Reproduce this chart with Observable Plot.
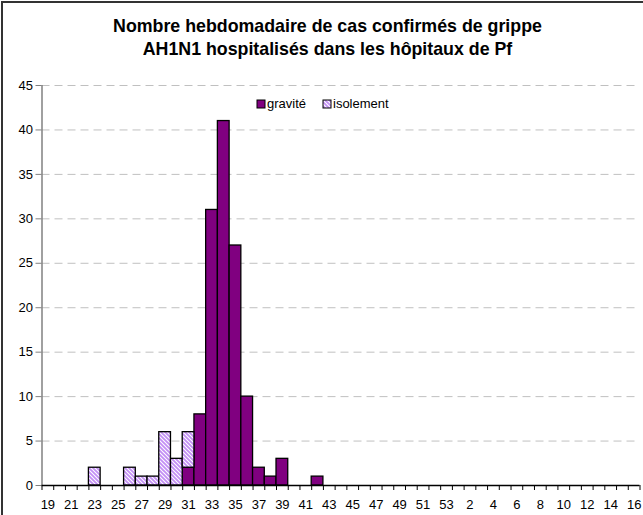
<!DOCTYPE html>
<html>
<head>
<meta charset="utf-8">
<script src="https://cdn.jsdelivr.net/npm/d3@7"></script>
<script src="https://cdn.jsdelivr.net/npm/@observablehq/plot@0.6"></script>
<style>
  html, body { margin: 0; padding: 0; background: #fff; }
  #wrap { position: relative; width: 643px; height: 515px; overflow: hidden; font-family: "Liberation Sans", Arial, sans-serif; }
  #border { position: absolute; left: 1px; top: 1px; width: 700px; height: 600px; border-left: 2px solid #333; border-top: 2px solid #333; }
  #title { position: absolute; left: 6px; top: 15px; width: 643px; text-align: center; font-weight: bold; font-size: 17.8px; line-height: 23px; color: #000; }
  #chart { position: absolute; left: 0; top: 75px; }
</style>
</head>
<body>
<div id="wrap">
  <div id="border"></div>
  <div id="title">Nombre hebdomadaire de cas confirmés de grippe<br>AH1N1 hospitalisés dans les hôpitaux de Pf</div>
  <div id="chart"></div>
</div>
<script>
const weeks = ["19","20","21","22","23","24","25","26","27","28","29","30","31","32","33","34","35","36","37","38","39","40","41","42","43","44","45","46","47","48","49","50","51","52","53","1","2","3","4","5","6","7","8","9","10","11","12","13","14","15","16"];
const gravite = [0,0,0,0,0,0,0,0,0,0,0,0,2,8,31,41,27,10,2,1,3,0,0,1,0,0,0,0,0,0,0,0,0,0,0,0,0,0,0,0,0,0,0,0,0,0,0,0,0,0,0];
const isolement = [0,0,0,0,2,0,0,2,1,1,6,3,4,0,0,0,0,0,0,0,0,0,0,0,0,0,0,0,0,0,0,0,0,0,0,0,0,0,0,0,0,0,0,0,0,0,0,0,0,0,0];
const seriesNames = ["gravité", "isolement"];
const yTicks = [0,5,10,15,20,25,30,35,40,45];

const rows = [];
weeks.forEach((w, i) => { if (gravite[i] > 0) rows.push({week: w, serie: seriesNames[0], value: gravite[i]}); });
weeks.forEach((w, i) => { if (isolement[i] > 0) rows.push({week: w, serie: seriesNames[1], value: isolement[i]}); });

const W = 643, H = 440, mL = 41.5, mR = 3.5, mT = 10, mB = 30;
const bw = (W - mL - mR) / weeks.length;
const FS = 13;

const chart = Plot.plot({
  width: W, height: H,
  marginLeft: mL, marginRight: mR, marginTop: mT, marginBottom: mB,
  style: {fontFamily: "'Liberation Sans', Arial, sans-serif", fontSize: FS + "px", background: "transparent", color: "#000"},
  x: {type: "band", domain: weeks, padding: 0},
  y: {domain: [0, 45], range: [H - mB, mT]},
  color: {domain: seriesNames, range: ["#800080", "url(#isoPat)"]},
  marks: [
    Plot.ruleY(yTicks.filter(d => d > 0), {stroke: "#c0c0c0", strokeDasharray: "8,5", strokeWidth: 1}),
    Plot.barY(rows, Plot.stackY({x: "week", y: "value", fill: "serie", stroke: "#000", strokeWidth: 1.3, order: seriesNames})),
    Plot.ruleX([weeks[0]], {dx: -bw / 2, y1: 0, y2: 45, stroke: "#808080", strokeWidth: 1.5}),
    Plot.ruleY([0], {stroke: "#000", strokeWidth: 1.5}),
    Plot.axisY({ticks: yTicks, tickSize: 6, tickPadding: 3, stroke: "#808080", fill: "#000", fontSize: FS, label: null}),
    Plot.axisX({tickSize: 5, tickFormat: () => "", dx: -bw / 2, stroke: "#000", label: null}),
    Plot.axisX({ticks: [weeks[weeks.length - 1]], tickSize: 5, tickFormat: () => "", dx: bw / 2, stroke: "#000", label: null}),
    Plot.axisX({tickSize: 0, tickPadding: 14, tickFormat: (d, i) => (i % 2 === 0 ? d : ""), fill: "#000", fontSize: FS, label: null})
  ]
});

const svg = d3.select(chart);
const defs = svg.insert("defs", ":first-child");
const pat = defs.append("pattern").attr("id", "isoPat").attr("patternUnits", "userSpaceOnUse")
  .attr("width", 4).attr("height", 4);
pat.append("rect").attr("width", 4).attr("height", 4).attr("fill", "#fff");
pat.append("path").attr("d", "M-1,-1L5,5M-1,3L1,5M3,-1L5,1").attr("stroke", "#c38ff5").attr("stroke-width", 1.8);

// legend
const lg = svg.append("g").attr("font-size", FS + "px").attr("fill", "#000").attr("text-anchor", "start");
const legendX = [257, 323];
seriesNames.forEach((s, i) => {
  lg.append("rect").attr("x", legendX[i]).attr("y", 100 - 75).attr("width", 8).attr("height", 8)
    .attr("fill", chart.scale("color").apply(s)).attr("stroke", "#000").attr("stroke-width", 1);
  lg.append("text").attr("x", legendX[i] + 10).attr("y", 108 - 75).attr("text-anchor", "start").text(s);
});

document.getElementById("chart").appendChild(chart);
</script>
</body>
</html>
